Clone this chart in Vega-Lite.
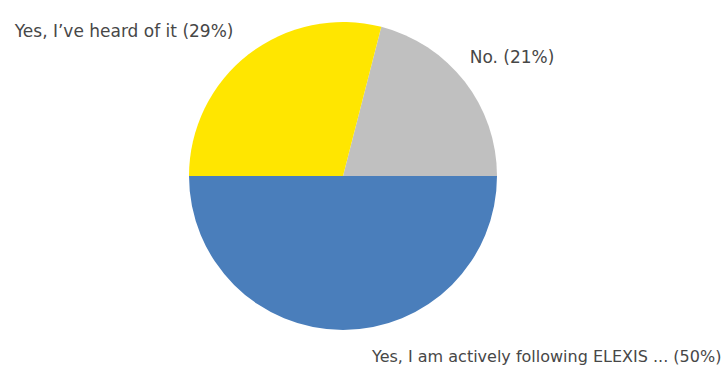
{
  "$schema": "https://vega.github.io/schema/vega-lite/v6.json",
  "autosize": "none",
  "width": 686,
  "height": 352,
  "padding": {"left": 0, "top": 0, "right": 39, "bottom": 18},
  "background": "white",
  "config": {"view": {"stroke": null}},
  "data": {
    "values": [
      {"answer": "No.", "label": "No. (21%)", "value": 21, "rank": 1},
      {"answer": "Yes, I am actively following ELEXIS ...", "label": "Yes, I am actively following ELEXIS ... (50%)", "value": 50, "rank": 2},
      {"answer": "Yes, I've heard of it", "label": "Yes, I\u2019ve heard of it (29%)", "value": 29, "rank": 3}
    ]
  },
  "encoding": {
    "theta": {"field": "value", "type": "quantitative", "stack": true, "scale": {"range": [0.2513, 6.5345]}},
    "order": {"field": "rank", "type": "quantitative"}
  },
  "layer": [
    {
      "mark": {"type": "arc", "radius": 154},
      "encoding": {
        "color": {
          "field": "answer", "type": "nominal", "legend": null,
          "scale": {
            "domain": ["No.", "Yes, I am actively following ELEXIS ...", "Yes, I've heard of it"],
            "range": ["#c0c0c0", "#4a7ebb", "#ffe600"]
          }
        }
      }
    },
    {
      "mark": {"type": "text", "radius": 182, "align": "right", "baseline": "middle", "dx": 2, "font": "DejaVu Sans", "fontSize": 17, "fill": "#474747"},
      "encoding": {"text": {"condition": {"test": "datum.rank === 3", "field": "label"}, "value": ""}}
    },
    {
      "mark": {"type": "text", "radius": 173, "align": "left", "baseline": "middle", "dx": -10, "dy": -12, "font": "DejaVu Sans", "fontSize": 17, "fill": "#474747"},
      "encoding": {"text": {"condition": {"test": "datum.rank === 1", "field": "label"}, "value": ""}}
    },
    {
      "mark": {"type": "text", "radius": 181, "align": "left", "baseline": "middle", "dx": 29, "font": "DejaVu Sans", "fontSize": 16, "fill": "#474747"},
      "encoding": {"text": {"condition": {"test": "datum.rank === 2", "field": "label"}, "value": ""}}
    }
  ]
}
